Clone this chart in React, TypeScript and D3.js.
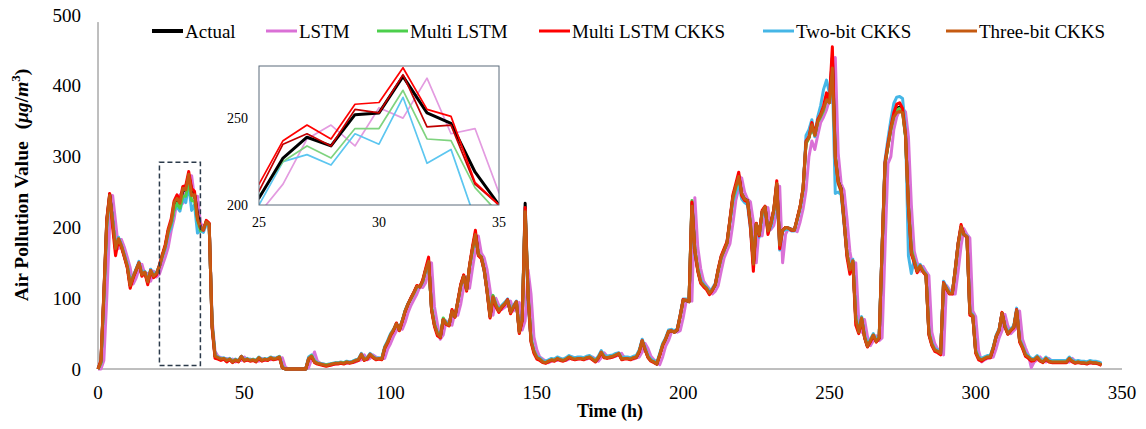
import React from "react";
import * as d3 from "d3";

// ---------- DATA ----------
const actual = [
  0,10,105,210,247,210,168,185,174,160,
  145,118,130,140,150,133,137,122,140,131,
  135,145,160,173,195,204,227,239,234,252,
  253,274,253,247,219,200,197,208,205,60,
  18,16,14,15,12,14,10,13,11,18,
  12,14,12,13,11,16,12,14,13,16,
  14,15,17,2,0,0,0,0,0,0,
  0,0,15,18,10,8,7,6,5,6,
  7,8,8,9,8,10,9,10,12,13,
  21,13,15,21,17,14,15,14,30,38,
  48,55,64,55,68,82,92,100,108,117,
  116,124,140,153,85,62,50,45,70,64,
  62,82,74,95,118,132,112,145,170,192,
  162,158,140,110,74,102,90,82,88,92,
  97,80,88,95,52,70,234,104,40,25,
  16,14,10,9,11,13,12,15,13,12,
  14,17,15,14,15,15,14,16,17,14,
  11,16,24,17,16,17,18,20,22,14,
  15,15,14,16,17,25,40,28,17,12,
  10,7,20,34,42,53,54,52,55,75,
  97,97,95,234,168,140,123,118,114,107,
  112,119,140,158,168,178,210,243,258,274,
  248,240,238,205,148,205,190,222,229,195,
  205,225,262,175,196,200,199,197,196,212,
  229,255,320,327,345,330,350,358,368,385,
  378,440,300,265,255,210,163,140,153,70,
  52,72,45,32,40,48,39,44,170,290,
  315,340,358,368,370,365,330,230,165,152,
  138,146,138,133,50,35,27,25,22,121,
  114,107,107,140,177,201,190,187,79,75,
  24,15,13,15,17,17,30,46,55,79,
  60,50,55,59,83,40,31,20,17,13,
  13,17,12,10,15,11,10,10,10,10,
  10,10,15,11,9,10,9,9,8,10,
  9,9,8,6,
];

const lstm = [
  0,0,12,100,205,245,208,170,183,172,
  158,143,120,128,140,148,134,135,124,138,
  130,134,146,158,172,195,212,238,246,234,
  256,250,273,241,244,207,199,206,204,70,
  25,18,16,14,15,12,14,10,13,12,
  17,12,14,12,13,11,15,12,14,13,
  16,14,15,16,3,0,0,0,0,0,
  0,0,2,14,24,11,8,7,6,5,
  6,7,8,8,9,8,10,9,10,12,
  13,20,13,15,20,17,14,15,15,28,
  36,46,54,62,56,66,80,90,98,106,
  116,115,122,138,150,88,64,42,48,68,
  63,62,80,76,92,116,130,114,142,168,
  188,164,157,140,112,76,100,90,84,87,
  91,96,82,87,94,55,68,140,106,45,
  27,17,14,11,9,11,13,12,15,13,
  12,14,17,15,14,15,15,14,16,17,
  14,11,16,23,18,16,17,18,20,22,
  15,15,15,14,16,17,24,36,29,18,
  13,10,6,17,32,40,52,54,52,54,
  72,95,97,96,242,172,142,124,118,113,
  106,110,118,138,157,167,177,205,238,255,
  270,250,240,236,208,150,200,188,218,228,
  197,203,222,258,150,190,199,198,196,194,
  208,226,252,300,322,310,330,348,356,366,
  380,376,440,305,262,252,212,166,142,150,
  70,52,70,46,33,40,47,40,44,170,
  290,300,338,356,366,368,363,328,232,166,
  150,138,145,138,132,52,36,28,26,20,
  118,112,106,106,138,174,198,190,185,82,
  74,26,10,13,15,16,17,29,44,54,
  77,61,50,54,58,82,42,30,20,2,
  10,13,17,12,10,15,11,10,10,10,
  10,10,10,15,11,9,10,9,9,8,
  10,9,9,8,
];

const multiLstm = [
  0,8,100,205,244,208,170,184,174,159,
  146,120,130,139,149,134,136,124,139,131,
  135,146,160,174,193,205,225,234,227,244,
  244,266,238,237,210,195,198,207,203,62,
  19,16,14,15,12,14,11,13,11,17,
  12,14,12,13,12,16,12,14,13,16,
  14,15,17,3,0,0,0,0,0,0,
  0,0,14,19,11,8,7,6,6,6,
  7,8,8,9,9,10,9,10,12,13,
  20,14,15,20,17,14,15,15,30,38,
  48,55,63,56,68,82,92,100,108,116,
  117,124,140,150,86,63,51,46,72,64,
  63,82,74,96,118,130,113,145,168,188,
  163,158,140,110,76,104,91,83,88,92,
  97,81,88,94,54,70,225,106,42,25,
  16,14,10,9,11,13,12,15,13,12,
  14,17,15,14,15,15,14,16,17,14,
  12,16,23,17,16,17,18,20,21,15,
  15,15,14,16,17,25,39,28,17,12,
  10,8,20,34,42,53,54,52,56,75,
  97,97,96,238,170,141,123,118,114,108,
  112,119,140,157,168,178,210,240,256,270,
  247,240,236,205,150,205,190,220,228,196,
  205,224,258,178,196,199,199,197,196,212,
  229,254,318,326,342,330,348,356,365,382,
  376,430,302,262,250,210,162,141,152,72,
  53,72,46,33,40,48,39,45,168,288,
  315,338,356,366,368,364,328,232,170,153,
  138,145,138,133,52,35,27,25,22,119,
  114,107,107,138,175,198,190,186,80,75,
  25,15,13,15,17,17,30,46,55,78,
  60,50,55,59,82,41,31,20,17,13,
  13,17,12,10,15,11,10,10,10,10,
  10,10,15,11,9,10,9,9,8,10,
  9,9,8,6,
];

const multiLstmCkks = [
  0,12,108,212,248,200,160,183,172,158,
  143,114,128,139,150,131,136,119,139,129,
  133,147,162,176,198,212,237,246,238,258,
  259,279,255,251,213,200,196,210,206,58,
  15,14,12,14,10,13,9,12,10,17,
  11,13,11,12,10,15,11,13,12,15,
  13,14,16,2,0,0,0,0,0,0,
  0,0,14,17,9,7,6,5,4,5,
  6,7,7,8,7,9,8,9,11,12,
  20,12,14,20,16,13,14,13,29,37,
  47,54,65,54,67,81,92,101,109,118,
  116,126,142,158,83,60,47,44,70,63,
  61,84,73,97,120,133,110,147,173,196,
  160,156,139,108,72,100,88,80,86,91,
  98,78,87,95,50,68,228,100,38,22,
  14,12,9,8,10,12,11,14,12,11,
  13,16,14,13,14,14,13,15,16,13,
  10,15,23,16,15,16,17,19,21,13,
  14,14,13,15,16,24,40,27,16,11,
  9,7,19,33,42,53,54,52,56,76,
  98,97,96,236,165,138,121,116,112,105,
  111,120,142,160,170,180,212,246,262,278,
  245,238,236,200,138,206,188,224,230,190,
  206,226,266,170,196,200,199,196,196,213,
  230,256,322,328,348,332,352,360,372,390,
  380,455,298,263,252,208,158,134,150,62,
  50,70,44,31,38,47,38,43,172,292,
  318,342,362,374,376,368,332,228,162,150,
  136,145,137,132,48,33,25,23,20,122,
  113,106,106,141,178,204,190,186,76,74,
  22,13,11,14,16,16,29,46,55,80,
  59,49,54,58,84,38,29,18,15,11,
  12,16,11,9,14,10,9,9,9,9,
  9,9,14,10,8,9,8,8,7,9,
  8,8,7,5,
];

const twoBitCkks = [
  0,9,100,200,240,212,172,186,175,162,
  148,122,131,141,152,135,138,126,141,133,
  137,146,158,170,190,200,225,229,223,241,
  235,262,224,232,192,196,193,204,202,64,
  20,17,15,16,13,15,11,14,12,18,
  13,15,13,14,12,17,13,15,14,17,
  15,16,18,4,0,0,0,0,0,0,
  0,0,17,20,12,9,8,7,6,7,
  8,9,9,10,9,11,10,11,13,14,
  22,14,16,22,18,15,16,15,32,40,
  50,56,64,56,69,83,93,100,107,116,
  116,123,138,150,87,64,52,47,71,66,
  64,83,76,96,117,129,114,144,167,186,
  163,157,138,109,78,103,92,84,90,94,
  99,83,90,96,55,72,222,92,44,27,
  18,16,12,11,13,15,14,17,15,14,
  16,19,17,16,17,17,16,18,19,16,
  13,18,26,19,18,19,20,22,23,16,
  17,17,16,18,19,27,42,30,19,14,
  12,9,22,36,44,55,56,54,57,77,
  99,99,97,228,160,143,126,120,116,110,
  114,121,141,157,168,179,208,236,250,262,
  240,235,232,198,152,200,186,217,225,192,
  200,220,255,168,194,197,197,195,195,210,
  226,252,330,338,352,328,356,372,395,408,
  390,410,248,250,246,205,160,145,155,75,
  55,74,48,35,42,50,42,46,174,295,
  325,352,375,384,385,382,340,160,135,155,
  140,148,140,134,53,37,29,27,24,124,
  116,109,108,142,178,200,191,188,80,77,
  26,17,15,17,19,19,32,48,57,78,
  62,52,57,61,86,42,33,22,19,15,
  15,19,14,12,17,13,12,12,12,12,
  12,12,17,13,11,12,11,11,10,12,
  11,11,10,8,
];

const threeBitCkks = [
  0,10,104,208,245,208,170,184,174,160,
  145,118,130,140,150,133,137,123,139,131,
  135,145,160,173,195,208,235,241,234,255,
  253,275,245,246,212,200,197,208,205,62,
  18,16,14,15,12,14,10,13,11,18,
  12,14,12,13,11,16,12,14,13,16,
  14,15,17,2,0,0,0,0,0,0,
  0,0,15,18,10,8,7,6,5,6,
  7,8,8,9,8,10,9,10,12,13,
  21,13,15,21,17,14,15,14,30,38,
  48,55,64,55,68,82,92,100,108,117,
  116,124,140,152,85,62,50,45,70,64,
  62,82,74,95,118,131,112,145,170,190,
  162,158,140,110,74,102,90,82,88,92,
  97,80,88,95,52,70,222,104,40,25,
  16,14,10,9,11,13,12,15,13,12,
  14,17,15,14,15,15,14,16,17,14,
  11,16,24,17,16,17,18,20,22,14,
  15,15,14,16,17,25,40,28,17,12,
  10,7,20,34,42,53,54,52,55,75,
  97,97,95,230,168,140,123,118,114,107,
  112,119,140,158,168,178,210,242,258,272,
  248,240,238,205,148,205,190,222,229,195,
  205,225,262,175,196,200,199,197,196,212,
  229,255,320,327,345,330,350,358,368,380,
  376,425,300,265,255,210,163,140,153,70,
  52,72,45,32,40,48,39,44,170,290,
  315,340,356,362,364,362,330,230,165,152,
  138,146,138,133,50,35,27,25,22,121,
  114,107,107,140,177,201,190,187,79,75,
  24,15,13,15,17,17,30,46,55,79,
  60,50,55,59,83,40,31,20,17,13,
  13,17,12,10,15,11,10,10,10,10,
  10,10,15,11,9,10,9,9,8,10,
  9,9,8,6,
];

const seriesNames = ["Actual", "LSTM", "Multi LSTM", "Multi LSTM CKKS", "Two-bit CKKS", "Three-bit CKKS"];
const seriesData = [actual, lstm, multiLstm, multiLstmCkks, twoBitCkks, threeBitCkks];
const seriesColors = ["#000000", "#DA70D6", "#4CCF4C", "#FF0000", "#45B6E6", "#C55A11"];
const insetColors = ["#000000", "#E39BE0", "#7FD37F", "#FF0000", "#5CC6F0", "#C00000"];

const xTicks = [0, 50, 100, 150, 200, 250, 300, 350];
const yTicks = [0, 100, 200, 300, 400, 500];
const insetXTicks = [25, 30, 35];
const insetYTicks = [200, 250];
const insetHours = [25, 35];
const zoomRange = [21, 35];   // hours of the dashed box
const zoomValueRange = [5, 292];

const legendLineX = [152, 266, 377, 539, 763, 946];

// ---------- CHART ----------
const FONT = "'Liberation Serif', 'Times New Roman', serif";

export default function App() {
  const x = d3.scaleLinear().domain([0, 350]).range([98, 1122]);
  const y = d3.scaleLinear().domain([0, 500]).range([369, 15]);

  const xi = d3.scaleLinear().domain(insetHours).range([259, 499]);
  const yi = d3.scaleLinear().domain([200, 280]).range([205, 66]);

  const mainLine = d3.line<number>().x((_, i) => x(i)).y((d) => y(d));
  const insetStart = insetHours[0] - 1;
  const insetLine = d3.line<number>().x((_, i) => xi(i + insetStart)).y((d) => yi(d));

  // draw order: LSTM, Actual, Two-bit, Multi LSTM, Multi LSTM CKKS, Three-bit
  const mainOrder = [1, 0, 4, 2, 3, 5];
  const insetOrder = [1, 4, 2, 0, 5, 3];

  return (
    <svg width={1146} height={429} style={{ position: "absolute", left: 0, top: 0, background: "#fff" }} fontFamily={FONT}>
      <defs>
        <clipPath id="insetClip">
          <rect x={xi(25)} y={yi(280)} width={xi(35) - xi(25)} height={yi(200) - yi(280)} />
        </clipPath>
      </defs>

      {/* axes */}
      <line x1={x(0)} x2={x(0)} y1={y(0)} y2={y(490)} stroke="#7f7f7f" strokeWidth={1} />
      <line x1={x(0)} x2={x(350)} y1={y(0)} y2={y(0)} stroke="#7f7f7f" strokeWidth={1} />

      {yTicks.map((t) => (
        <text key={"y" + t} x={81} y={y(t)} dy="0.35em" textAnchor="end" fontSize={19} fill="#000">
          {t}
        </text>
      ))}
      {xTicks.map((t) => (
        <text key={"x" + t} x={x(t)} y={399} textAnchor="middle" fontSize={19} fill="#000">
          {t}
        </text>
      ))}

      {/* axis titles */}
      <text x={610} y={417} textAnchor="middle" fontSize={18} fontWeight="bold">
        Time (h)
      </text>
      <text transform="translate(28,185) rotate(-90)" textAnchor="middle" fontSize={19.5} fontWeight="bold">
        <tspan>Air Pollution Value</tspan>
        <tspan dx={12}>(</tspan>
        <tspan fontStyle="italic">μg</tspan>
        <tspan>/</tspan>
        <tspan fontStyle="italic">m</tspan>
        <tspan fontSize={13} dy={-8}>3</tspan>
        <tspan dy={8}>)</tspan>
      </text>

      {/* main series */}
      {mainOrder.map((k) => (
        <path
          key={"m" + k}
          d={mainLine(seriesData[k]) || ""}
          fill="none"
          stroke={seriesColors[k]}
          strokeWidth={3}
          strokeLinejoin="round"
        />
      ))}

      {/* dashed zoom box */}
      <rect
        x={x(zoomRange[0])}
        y={y(zoomValueRange[1])}
        width={x(zoomRange[1]) - x(zoomRange[0])}
        height={y(zoomValueRange[0]) - y(zoomValueRange[1])}
        fill="none"
        stroke="#2B3A4A"
        strokeWidth={1.5}
        strokeDasharray="5,3"
      />

      {/* inset */}
      <rect x={xi(25)} y={yi(280)} width={xi(35) - xi(25)} height={yi(200) - yi(280)} fill="#fff" />
      <g clipPath="url(#insetClip)">
        {insetOrder.map((k) => {
          const sub = seriesData[k].slice(insetStart, insetHours[1] + 2);
          return (
            <path
              key={"i" + k}
              d={insetLine(sub) || ""}
              fill="none"
              stroke={insetColors[k]}
              strokeWidth={k === 0 ? 3 : 1.7}
              strokeLinejoin="round"
            />
          );
        })}
      </g>
      <rect
        x={xi(25)}
        y={yi(280)}
        width={xi(35) - xi(25)}
        height={yi(200) - yi(280)}
        fill="none"
        stroke="#5B6B7B"
        strokeWidth={1}
      />
      {insetXTicks.map((t) => (
        <text key={"ix" + t} x={xi(t)} y={227} textAnchor="middle" fontSize={14}>
          {t}
        </text>
      ))}
      {insetYTicks.map((t) => (
        <text key={"iy" + t} x={248} y={yi(t)} dy="0.35em" textAnchor="end" fontSize={14}>
          {t}
        </text>
      ))}

      {/* legend */}
      {seriesNames.map((n, k) => (
        <g key={"l" + k}>
          <line
            x1={legendLineX[k]}
            x2={legendLineX[k] + 31}
            y1={31}
            y2={31}
            stroke={seriesColors[k]}
            strokeWidth={k === 0 ? 4 : 3}
          />
          <text x={legendLineX[k] + 33} y={31} dy="0.35em" fontSize={19}>
            {n}
          </text>
        </g>
      ))}
    </svg>
  );
}
